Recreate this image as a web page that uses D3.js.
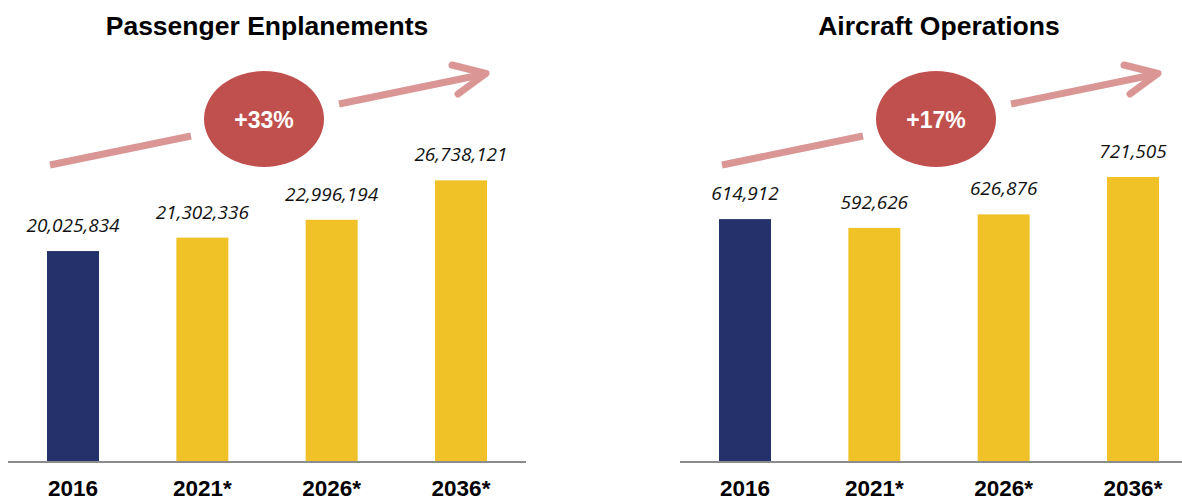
<!DOCTYPE html>
<html>
<head>
<meta charset="utf-8">
<script src="https://cdn.jsdelivr.net/npm/d3@7"></script>
<style>
  html, body { margin: 0; padding: 0; background: #fff; }
  body { width: 1182px; height: 499px; overflow: hidden; }
</style>
</head>
<body>
<script>
// data
var years = ["2016", "2021*", "2026*", "2036*"];
var enplanements = [20025834, 21302336, 22996194, 26738121];
var operations = [614912, 592626, 626876, 721505];
var titles = ["Passenger Enplanements", "Aircraft Operations"];
var growth = ["+33%", "+17%"];

var width = 1182, height = 499;
var navy = "#25316b", gold = "#f0c228";

var svg = d3.select("body")
    .append("svg")
    .attr("width", width)
    .attr("height", height);

// one panel per measure
var panels = [
    { title: titles[0], values: enplanements, max: 30000000, left: 8, axisEnd: 526, growth: growth[0] },
    { title: titles[1], values: operations, max: 800000, left: 680, axisEnd: 1182, growth: growth[1] }
];

var baseline = 462;
var fmt = d3.format(",");

panels.forEach(function(p) {
    var g = svg.append("g");

    var x = d3.scaleBand()
        .domain(years)
        .range([p.left, p.left + 518])
        .paddingInner(0.598)
        .paddingOuter(0.3016);

    var y = d3.scaleLinear()
        .domain([0, p.max])
        .range([baseline, 146]);

    // title
    var mid = p.left + 259;
    g.append("text")
        .attr("x", mid)
        .attr("y", 35)
        .attr("text-anchor", "middle")
        .style("font-family", "'Liberation Sans', Arial, sans-serif")
        .style("font-weight", "bold")
        .style("font-size", "26.5px")
        .text(p.title);

    // bars
    g.selectAll(".bar")
        .data(p.values)
        .enter().append("rect")
        .attr("class", "bar")
        .attr("x", function(d, i) { return x(years[i]); })
        .attr("y", function(d) { return y(d); })
        .attr("width", x.bandwidth())
        .attr("height", function(d) { return baseline - y(d); })
        .attr("fill", function(d, i) { return i === 0 ? navy : gold; });

    // value labels
    g.selectAll(".val")
        .data(p.values)
        .enter().append("text")
        .attr("class", "val")
        .attr("x", function(d, i) { return x(years[i]) + x.bandwidth() / 2; })
        .attr("y", function(d) { return y(d) - 19; })
        .attr("text-anchor", "middle")
        .style("font-family", "'Open Sans', sans-serif")
        .style("font-style", "italic")
        .style("font-size", "19px")
        .style("fill", "#111")
        .text(function(d) { return fmt(d); });

    // axis line
    g.append("line")
        .attr("x1", p.left)
        .attr("x2", p.axisEnd)
        .attr("y1", baseline)
        .attr("y2", baseline)
        .attr("stroke", "#8c8c8c")
        .attr("stroke-width", 2);

    // category labels
    g.selectAll(".cat")
        .data(years)
        .enter().append("text")
        .attr("class", "cat")
        .attr("x", function(d) { return x(d) + x.bandwidth() / 2; })
        .attr("y", 496)
        .attr("text-anchor", "middle")
        .style("font-family", "'Liberation Sans', Arial, sans-serif")
        .style("font-weight", "bold")
        .style("font-size", "22.5px")
        .text(function(d) { return d; });

    // growth arrow, broken around the bubble
    var ox = p.left;
    var arrow = g.append("g")
        .attr("stroke", "#d99694")
        .attr("stroke-width", 7)
        .attr("fill", "none");
    arrow.append("line")
        .attr("x1", ox + 42).attr("y1", 165)
        .attr("x2", ox + 183).attr("y2", 136);
    arrow.append("line")
        .attr("x1", ox + 331).attr("y1", 104)
        .attr("x2", ox + 477).attr("y2", 74);
    arrow.append("path")
        .attr("d", "M" + (ox + 444) + "," + 65 +
            "L" + (ox + 478) + "," + 73.5 +
            "L" + (ox + 450) + "," + 94)
        .attr("stroke-linecap", "round")
        .attr("stroke-linejoin", "round");

    // bubble
    var cx = ox + 256;
    g.append("ellipse")
        .attr("cx", cx)
        .attr("cy", 119)
        .attr("rx", 60)
        .attr("ry", 48)
        .attr("fill", "#c0504d");
    g.append("text")
        .attr("x", cx)
        .attr("y", 128)
        .attr("text-anchor", "middle")
        .style("font-family", "'Liberation Sans', Arial, sans-serif")
        .style("font-weight", "bold")
        .style("font-size", "23px")
        .style("fill", "#fff")
        .text(p.growth);
});
</script>
</body>
</html>
